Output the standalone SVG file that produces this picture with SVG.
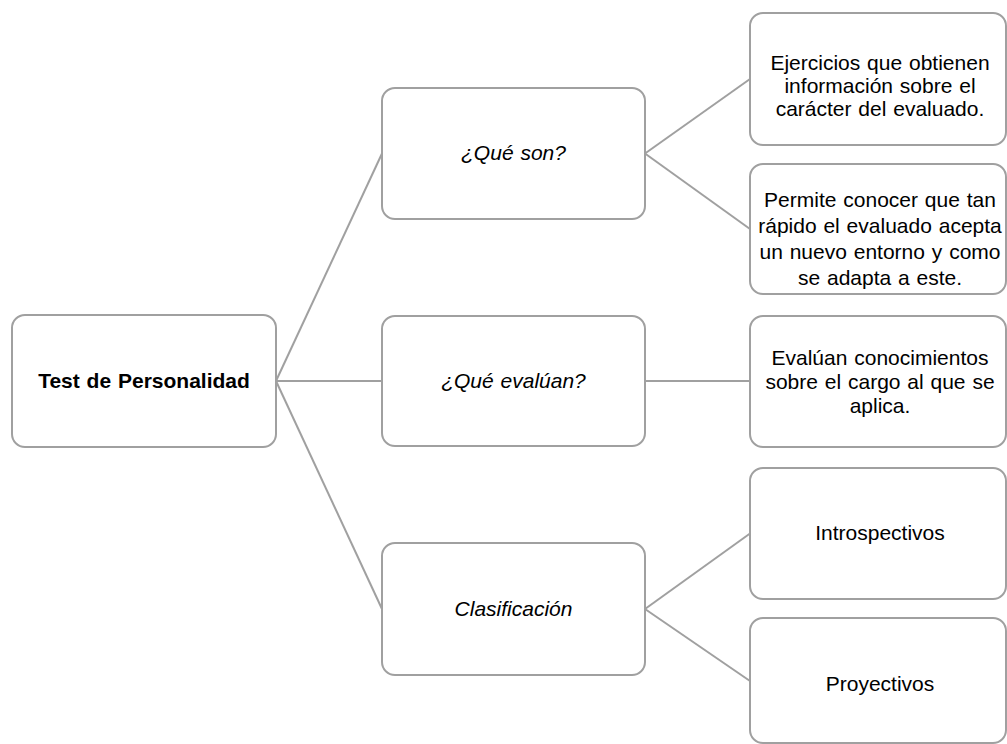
<svg xmlns="http://www.w3.org/2000/svg" width="1007" height="744" viewBox="0 0 1007 744">
  <style>
    .box { fill: #ffffff; stroke: #a0a0a0; stroke-width: 2; }
    .link { fill: none; stroke: #a0a0a0; stroke-width: 2; }
    text { font-family: "Liberation Sans", Arial, sans-serif; font-size: 21px; word-spacing: 1px; fill: #000000; text-anchor: middle; }
    .title { font-weight: bold; }
    .q { font-style: italic; }
  </style>
  <rect width="1007" height="744" fill="#ffffff"/>

  <!-- connectors -->
  <g id="connectors">
    <path class="link" d="M276,381 L382,153.5"/>
    <path class="link" d="M276,381 L382,381"/>
    <path class="link" d="M276,381 L382,609"/>
    <path class="link" d="M645,153.5 L750,79"/>
    <path class="link" d="M645,153.5 L750,229"/>
    <path class="link" d="M645,381 L750,381"/>
    <path class="link" d="M645,609 L750,533.5"/>
    <path class="link" d="M645,609 L750,681"/>
  </g>

  <!-- root -->
  <g id="test-personalidad">
    <rect class="box" x="12" y="315" width="264" height="132" rx="13"/>
    <text class="title" x="144" y="388">Test de Personalidad</text>
  </g>

  <!-- second level -->
  <g id="que-son">
    <rect class="box" x="382" y="88" width="263" height="131" rx="13"/>
    <text class="q" x="513.5" y="160">¿Qué son?</text>
  </g>
  <g id="que-evaluan">
    <rect class="box" x="382" y="316" width="263" height="130" rx="13"/>
    <text class="q" x="513.5" y="388">¿Qué evalúan?</text>
  </g>
  <g id="clasificacion">
    <rect class="box" x="382" y="543" width="263" height="132" rx="13"/>
    <text class="q" x="513.5" y="616">Clasificación</text>
  </g>

  <!-- third level -->
  <g id="ejercicios">
    <rect class="box" x="750" y="13" width="256" height="132" rx="13"/>
    <text x="880" y="70">Ejercicios que obtienen</text>
    <text x="880" y="93">información sobre el</text>
    <text x="880" y="116">carácter del evaluado.</text>
  </g>
  <g id="permite-conocer">
    <rect class="box" x="750" y="164" width="256" height="130" rx="13"/>
    <text x="880" y="207">Permite conocer que tan</text>
    <text x="880" y="233">rápido el evaluado acepta</text>
    <text x="880" y="259">un nuevo entorno y como</text>
    <text x="880" y="285">se adapta a este.</text>
  </g>
  <g id="evaluan-conocimientos">
    <rect class="box" x="750" y="316" width="256" height="131" rx="13"/>
    <text x="880" y="365">Evalúan conocimientos</text>
    <text x="880" y="389">sobre el cargo al que se</text>
    <text x="880" y="413">aplica.</text>
  </g>
  <g id="introspectivos">
    <rect class="box" x="750" y="468" width="256" height="131" rx="13"/>
    <text x="880" y="540">Introspectivos</text>
  </g>
  <g id="proyectivos">
    <rect class="box" x="750" y="618" width="256" height="125" rx="13"/>
    <text x="880" y="691">Proyectivos</text>
  </g>
</svg>
